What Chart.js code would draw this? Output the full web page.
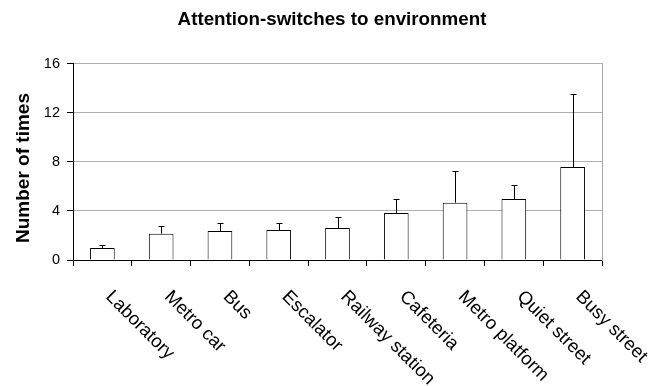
<!DOCTYPE html>
<html>
<head>
<meta charset="utf-8">
<script src="https://cdn.jsdelivr.net/npm/chart.js@4/dist/chart.umd.min.js"></script>
<style>
  html, body { margin: 0; padding: 0; background: #fff; }
  #wrap { width: 664px; height: 386px; }
</style>
</head>
<body>
<div id="wrap"><canvas id="c" width="664" height="386"></canvas></div>
<script>
const chartTitle = "Attention-switches to environment";
const yAxisTitle = "Number of times";
const categories = ["Laboratory", "Metro car", "Bus", "Escalator", "Railway station", "Cafeteria", "Metro platform", "Quiet street", "Busy street"];
const meanValues = [0.98, 2.15, 2.37, 2.45, 2.61, 3.84, 4.68, 4.98, 7.59];
const errorValues = [0.24, 0.63, 0.65, 0.57, 0.90, 1.14, 2.55, 1.17, 5.96];
const yTicks = [0, 4, 8, 12, 16];

const FONT = "'Liberation Sans', Arial, sans-serif";
Chart.defaults.color = '#000';
Chart.defaults.font.family = FONT;

const errorBarPlugin = {
  id: 'errorBars',
  afterDatasetsDraw(chart) {
    const ctx = chart.ctx;
    const xs = chart.scales.x, ys = chart.scales.y;
    ctx.save();
    ctx.strokeStyle = '#000';
    ctx.lineWidth = 1;
    meanValues.forEach((v, i) => {
      const x = Math.round(xs.getPixelForValue(i)) + 0.5;
      const y0 = ys.getPixelForValue(v);
      const y1 = Math.round(ys.getPixelForValue(v + errorValues[i])) + 0.5;
      ctx.beginPath();
      ctx.moveTo(x, y0);
      ctx.lineTo(x, y1);
      ctx.moveTo(x - 3, y1);
      ctx.lineTo(x + 3, y1);
      ctx.stroke();
    });
    ctx.restore();
  }
};

const labelPlugin = {
  id: 'rotLabels',
  afterDraw(chart) {
    const ctx = chart.ctx;
    const xs = chart.scales.x;
    ctx.save();
    ctx.fillStyle = '#000';
    ctx.font = '18.5px ' + FONT;
    ctx.textAlign = 'left';
    ctx.textBaseline = 'alphabetic';
    categories.forEach((c, i) => {
      const x = xs.getPixelForValue(i);
      ctx.save();
      ctx.translate(x + 2.5, 297.6);
      ctx.rotate(Math.PI / 4);
      ctx.fillText(c, 0, 0);
      ctx.restore();
    });
    // y axis title
    ctx.font = 'bold 19px ' + FONT;
    ctx.textAlign = 'center';
    ctx.textBaseline = 'middle';
    ctx.save();
    ctx.translate(23.5, 168);
    ctx.rotate(-Math.PI / 2);
    ctx.fillText(yAxisTitle, 0, 0);
    ctx.restore();
    ctx.restore();
  }
};

new Chart(document.getElementById('c'), {
  type: 'bar',
  data: {
    labels: categories,
    datasets: [{
      data: meanValues,
      backgroundColor: '#fff',
      borderColor: '#000',
      borderWidth: 1,
      barPercentage: 0.42,
      categoryPercentage: 1
    }]
  },
  options: {
    responsive: false,
    animation: false,
    devicePixelRatio: 1,
    layout: { padding: { left: 0, right: 0, top: 0, bottom: 0 } },
    plugins: {
      legend: { display: false },
      tooltip: { enabled: false },
      title: {
        display: true,
        text: chartTitle,
        color: '#000',
        font: { family: FONT, size: 18.8, weight: 'bold' },
        padding: { top: 8.2, bottom: 33.2 }
      }
    },
    scales: {
      x: {
        grid: { display: true, offset: true, drawOnChartArea: false, drawTicks: true, tickLength: 6, tickColor: '#000', color: '#000' },
        border: { display: true, color: '#000', width: 1 },
        ticks: { display: false },
        afterFit(s) { s.height = 126; }
      },
      y: {
        min: 0, max: 16,
        afterBuildTicks(s) { s.ticks = yTicks.map(v => ({ value: v })); },
        grid: { color: '#b0b0b0', tickColor: '#000', tickLength: 6, lineWidth: 1 },
        border: { display: true, color: '#000', width: 1 },
        ticks: { padding: 7, font: { family: FONT, size: 14.5 }, color: '#000' },
        afterFit(s) { s.width = 73; }
      },
      y2: {
        position: 'right',
        display: true,
        grid: { display: true, drawOnChartArea: false, drawTicks: false },
        border: { display: true, color: '#a8a8a8', width: 1 },
        ticks: { display: false },
        afterFit(s) { s.width = 62; }
      }
    }
  },
  plugins: [errorBarPlugin, labelPlugin]
});
</script>
</body>
</html>
